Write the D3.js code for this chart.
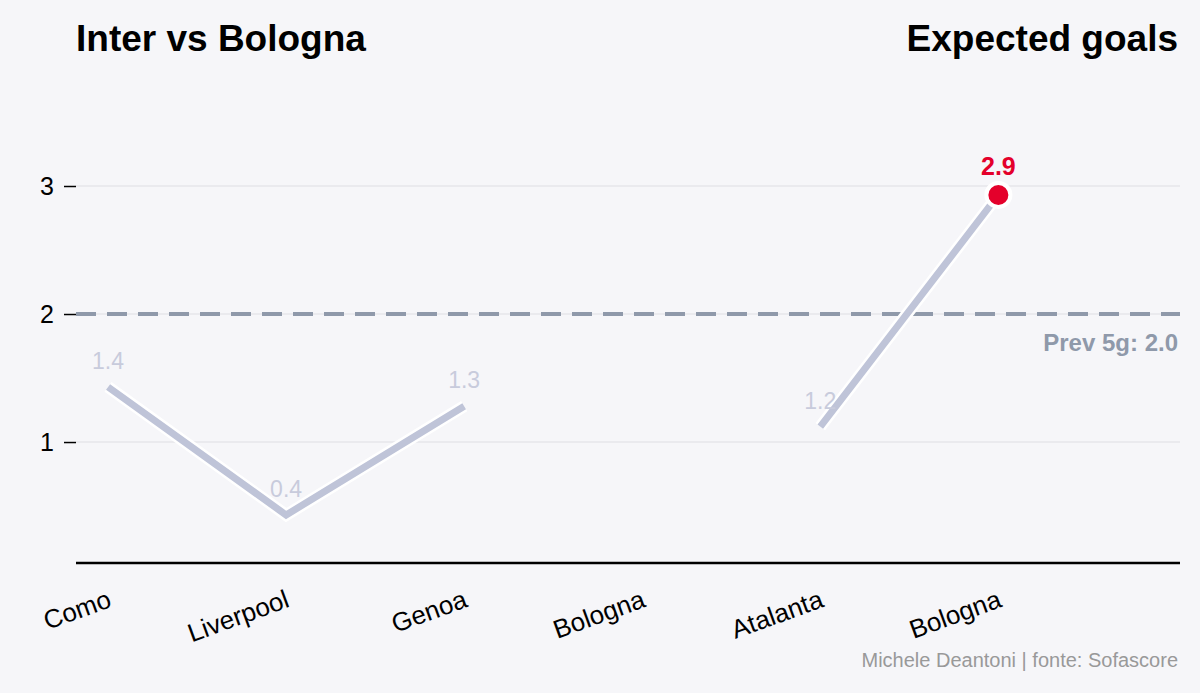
<!DOCTYPE html>
<html><head><meta charset="utf-8">
<script src="https://cdn.jsdelivr.net/npm/d3@7"></script>
<style>body{margin:0;background:#f6f6f9;font-family:"Liberation Sans",Arial,sans-serif}</style>
</head><body><svg width="1200" height="693"></svg>
<script>
// data
var opponents = ["Como", "Liverpool", "Genoa", "Bologna", "Atalanta", "Bologna"];
var xg = [1.43, 0.43, 1.28, null, 1.12, 2.93];
var xgLabels = ["1.4", "0.4", "1.3", "", "1.2", "2.9"];
var yTicks = [1, 2, 3];
var prevAvg = 2.0;

var svg = d3.select("svg");
svg.append("rect").attr("width", 1200).attr("height", 693).attr("fill", "#f6f6f9");

var x = d3.scaleLinear().domain([-0.18, 6.02]).range([76, 1180]);
var y = d3.scaleLinear().domain([0.055, 3]).range([563, 186]);

// grid
svg.selectAll(".grid").data(yTicks).enter().append("line")
  .attr("x1", 76).attr("x2", 1180)
  .attr("y1", d => y(d)).attr("y2", d => y(d))
  .attr("stroke", "#e6e6ea").attr("stroke-width", 1.5);

// y axis
var yAxis = svg.append("g").attr("transform", "translate(76,0)")
  .call(d3.axisLeft(y).tickValues(yTicks).tickFormat(d3.format("d")).tickSize(12).tickPadding(10));
yAxis.select(".domain").remove();
yAxis.selectAll("line").attr("stroke", "#000").attr("stroke-width", 1.5);
yAxis.selectAll("text").attr("font-size", 25).attr("fill", "#000")
  .attr("font-family", "Liberation Sans, Arial");

// x axis baseline
svg.append("line").attr("x1", 76).attr("x2", 1180).attr("y1", 563).attr("y2", 563)
  .attr("stroke", "#000").attr("stroke-width", 2.5);
svg.selectAll(".xl").data(opponents).enter().append("text")
  .attr("transform", (d, i) => "translate(" + (x(i) - 2) + ",588) rotate(-20)")
  .attr("text-anchor", "end").attr("dy", "0.75em")
  .attr("font-size", 26).attr("fill", "#000").text(d => d);

// average line
svg.append("line").attr("x1", 76).attr("x2", 1180)
  .attr("y1", y(prevAvg)).attr("y2", y(prevAvg))
  .attr("stroke", "#8f99aa").attr("stroke-width", 4).attr("stroke-dasharray", "20,11");
svg.append("text").attr("x", 1178).attr("y", 351).attr("text-anchor", "end")
  .attr("font-size", 24).attr("font-weight", "bold").attr("fill", "#8f99aa")
  .text("Prev 5g: " + prevAvg.toFixed(1));

// line
var pts = xg.map((v, i) => ({i: i, v: v, label: xgLabels[i]}));
var line = d3.line().defined(d => d.v != null).x(d => x(d.i)).y(d => y(d.v));
svg.append("path").datum(pts).attr("d", line).attr("fill", "none")
  .attr("stroke", "#fff").attr("stroke-width", 12);
svg.append("path").datum(pts).attr("d", line).attr("fill", "none")
  .attr("stroke", "#bfc4d8").attr("stroke-width", 7);

// labels
var valid = pts.filter(d => d.v != null);
var last = valid[valid.length - 1];
svg.selectAll(".vl").data(valid.slice(0, -1)).enter().append("text")
  .attr("x", d => x(d.i)).attr("y", d => y(d.v) - 18).attr("text-anchor", "middle")
  .attr("font-size", 23).attr("fill", "#c8cbdc").text(d => d.label);

svg.append("circle").attr("cx", x(last.i)).attr("cy", y(last.v)).attr("r", 12)
  .attr("fill", "#e4002b").attr("stroke", "#fff").attr("stroke-width", 4);
svg.append("text").attr("x", x(last.i)).attr("y", y(last.v) - 20).attr("text-anchor", "middle")
  .attr("font-size", 25).attr("font-weight", "bold").attr("fill", "#e4002b").text(last.label);

// titles
svg.append("text").attr("x", 76).attr("y", 51).attr("font-size", 37).attr("font-weight", "bold")
  .attr("fill", "#000").text("Inter vs Bologna");
svg.append("text").attr("x", 1178).attr("y", 51).attr("text-anchor", "end").attr("font-size", 37)
  .attr("font-weight", "bold").attr("fill", "#000").text("Expected goals");
svg.append("text").attr("x", 1178).attr("y", 667).attr("text-anchor", "end").attr("font-size", 20)
  .attr("fill", "#999").text("Michele Deantoni | fonte: Sofascore");
</script></body></html>
